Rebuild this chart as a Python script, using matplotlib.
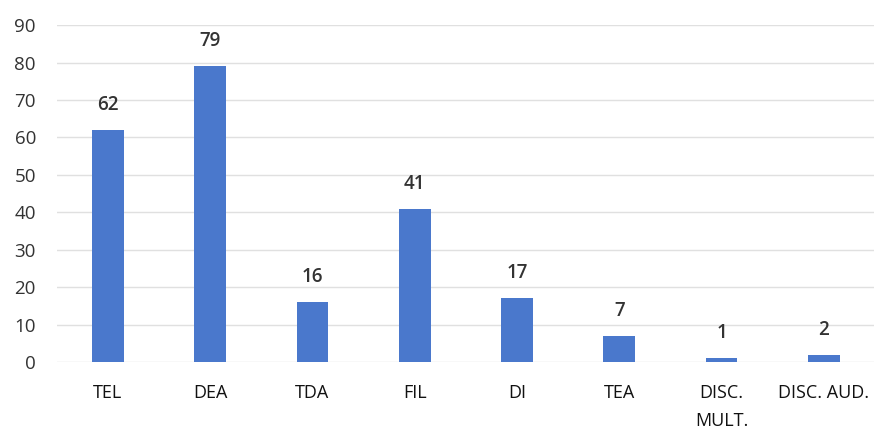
import matplotlib
matplotlib.use("Agg")
import matplotlib.pyplot as plt

categories = ["TEL", "DEA", "TDA", "FIL", "DI", "TEA", "DISC.\nMULT.", "DISC. AUD."]
values = [62, 79, 16, 41, 17, 7, 1, 2]
yticks = [0, 10, 20, 30, 40, 50, 60, 70, 80, 90]

plt.rcParams['font.family'] = ['Open Sans', 'DejaVu Sans']

fig = plt.figure(figsize=(8.74, 4.33), dpi=100)
ax = fig.add_axes([0.065, 0.164, 0.936, 0.778])

x = list(range(len(categories)))
bars = ax.bar(x, values, width=0.31, color="#4A78CC", zorder=3)
for xi, v in zip(x, values):
    ax.text(xi, v + 4.0, str(v), ha="center", va="bottom", fontsize=13.5,
            fontweight="semibold", color="#333333")

ax.set_ylim(0, 90)
ax.set_xlim(-0.5, len(categories) - 0.5)
ax.set_yticks(yticks)
ax.set_yticklabels([str(t) for t in yticks], fontsize=13.5, color="#333333")
ax.set_xticks(x)
ax.set_xticklabels(categories, fontsize=13, color="#111111", va="top", linespacing=1.7)
ax.tick_params(axis="both", length=0)
ax.tick_params(axis="x", pad=16)
ax.tick_params(axis="y", pad=15)
ax.grid(axis="y", color="#e0e0e0", linewidth=1, zorder=0)
for s in ax.spines.values():
    s.set_visible(False)

fig.savefig("out.png", dpi=100)
